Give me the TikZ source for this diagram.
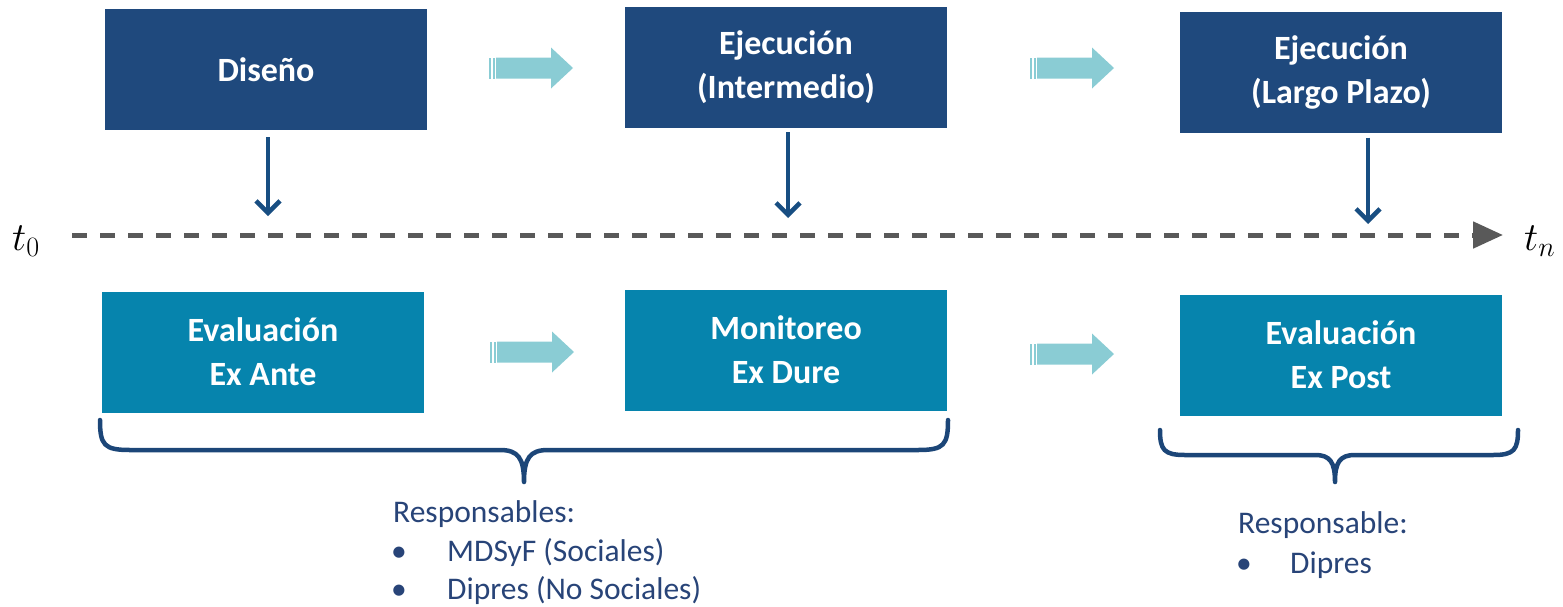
\documentclass[tikz,border=0pt]{standalone}
\usepackage{fix-cm}
\usepackage{fontspec}
\setmainfont{Carlito}
\usetikzlibrary{arrows.meta}
\definecolor{navybox}{RGB}{31,73,125}
\definecolor{tealbox}{RGB}{6,132,173}
\definecolor{lightarr}{RGB}{138,204,212}
\definecolor{downcol}{RGB}{24,78,130}
\definecolor{bracecol}{RGB}{28,70,120}
\definecolor{resptext}{RGB}{40,68,120}
\definecolor{linegray}{RGB}{89,89,89}
\tikzset{
  box/.style={minimum width=322pt, minimum height=121pt, inner sep=0pt, align=center,
    text=white, font=\fontsize{34}{44}\selectfont\bfseries},
  topbox/.style={box, fill=navybox},
  botbox/.style={box, fill=tealbox},
  downarr/.style={draw=downcol, line width=4pt, -{Straight Barb[length=12pt,width=24pt,line width=4.5pt]}},
  timeline/.style={draw=linegray, line width=5pt, dash pattern=on 15pt off 13pt,
    -{Triangle[length=30pt,width=26pt,fill=linegray]}},
  brace/.style={draw=bracecol, line width=4.5pt, line cap=round, line join=round},
  resp/.style={text=resptext, font=\fontsize{31.5}{40}\selectfont, inner sep=0pt, anchor=base west},
  tlab/.style={font=\fontsize{40}{44}\selectfont, inner sep=0pt},
  blockarr/.pic={
    \fill[lightarr] (0,-10.5) rectangle (2,10.5);
    \fill[lightarr] (3.5,-10.5) rectangle (5.5,10.5);
    \fill[lightarr] (7,-10.5) -- (62,-10.5) -- (62,-20.5) -- (84,0) -- (62,20.5) -- (62,10.5) -- (7,10.5) -- cycle;
  }
}
\begin{document}
\begin{tikzpicture}[x=1pt,y=-1pt]
\useasboundingbox (0,0) rectangle (1563,606);
% top boxes
\node[topbox] (dis) at (266,69.5) {Diseño};
\node[topbox] (eji) at (786,67.5) {Ejecución\\(Intermedio)};
\node[topbox] (ejl) at (1341,72) {Ejecución\\(Largo Plazo)};
% bottom boxes
\node[botbox] (exa) at (263,352) {Evaluación\\Ex Ante};
\node[botbox] (mon) at (786,350) {Monitoreo\\Ex Dure};
\node[botbox] (exp) at (1341,355) {Evaluación\\Ex Post};
% block arrows
\pic at (489,68) {blockarr};
\pic at (1030,68) {blockarr};
\pic at (490,352) {blockarr};
\pic at (1030,354) {blockarr};
% timeline
\coordinate (tl0) at (72,235);
\coordinate (tln) at (1503,235);
\draw[timeline] (tl0) -- (tln);
\node[tlab, anchor=base west] (t0) at (12,250) {$t_0$};
\node[tlab, anchor=base west] (tn) at (1524,250) {$t_n$};
% down arrows
\coordinate (d1) at (268,216);
\coordinate (d2) at (788,218);
\coordinate (d3) at (1368,224);
\draw[downarr] ([xshift=2pt,yshift=-7pt]dis.south) -- (d1);
\draw[downarr] ([xshift=2pt,yshift=-4pt]eji.south) -- (d2);
\draw[downarr] ([xshift=27pt,yshift=-5pt]ejl.south) -- (d3);
% braces
\draw[brace] (100,420) .. controls (100,445) and (104,450) .. (130,450) -- (500,450)
  .. controls (518,450) and (524,458) .. (524,482)
  .. controls (524,458) and (530,450) .. (548,450) -- (918,450)
  .. controls (944,450) and (948,445) .. (948,420);
\draw[brace] (1160,430) .. controls (1160,450) and (1164,455) .. (1185,455) -- (1315,455)
  .. controls (1330,455) and (1335,462) .. (1335,482)
  .. controls (1335,462) and (1340,455) .. (1355,455) -- (1493,455)
  .. controls (1514,455) and (1518,450) .. (1518,430);
% responsables
\node[resp] (r1) at (393,522) {Responsables:};
\node[resp] (b1) at (391,561) {•};
\node[resp] (r2) at (447,561) {MDSyF (Sociales)};
\node[resp] (b2) at (391,599) {•};
\node[resp] (r3) at (447,599) {Dipres (No Sociales)};
\node[resp] (s1) at (1238,533) {Responsable:};
\node[resp] (b3) at (1236,573) {•};
\node[resp] (s2) at (1290,573) {Dipres};
\end{tikzpicture}
\end{document}
